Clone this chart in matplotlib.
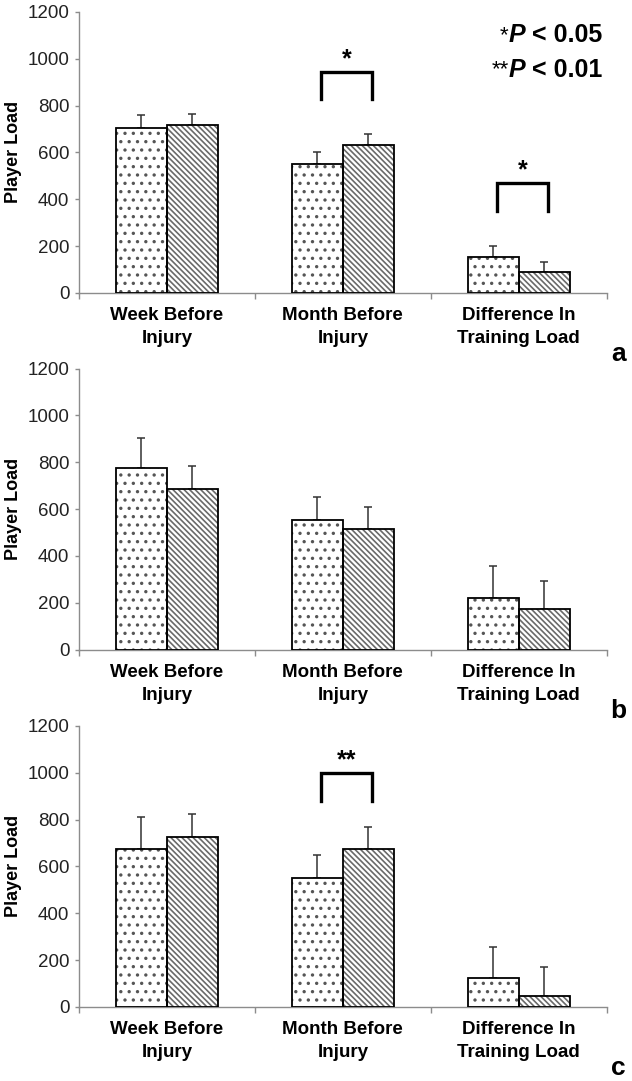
import matplotlib
matplotlib.use("Agg")
import matplotlib.pyplot as plt
import numpy as np

# Data (Player Load, mean + upper SD)
categories = ["Week Before\nInjury", "Month Before\nInjury", "Difference In\nTraining Load"]

a_dotted = [705, 550, 155]
a_dotted_err = [55, 50, 45]
a_hatched = [715, 630, 88]
a_hatched_err = [50, 50, 44]

b_dotted = [775, 552, 222]
b_dotted_err = [128, 102, 135]
b_hatched = [687, 516, 173]
b_hatched_err = [96, 92, 122]

c_dotted = [674, 551, 124]
c_dotted_err = [135, 98, 132]
c_hatched = [724, 674, 47]
c_hatched_err = [99, 95, 123]

# significance brackets: (category index, bracket top, bracket bottom, stars)
a_brackets = [(1, 944, 829, "*"), (2, 470, 350, "*")]
b_brackets = []
c_brackets = [(1, 997, 879, "**")]

panel_labels = ["a", "b", "c"]

plt.rcParams["font.family"] = ["Liberation Sans", "DejaVu Sans"]
plt.rcParams["hatch.linewidth"] = 1.2

AXIS_GREY = "#8c8c8c"
BAR_W = 0.29


def draw_panel(ax, dotted, dotted_err, hatched, hatched_err, brackets):
    x = np.arange(len(categories)) + 0.5
    x1 = x - BAR_W / 2
    x2 = x + BAR_W / 2

    # hatch fill first (grey pattern), then black outlines on top
    ax.bar(x1, dotted, BAR_W, color="white", edgecolor="#555555", hatch="..", linewidth=0, zorder=2)
    ax.bar(x2, hatched, BAR_W, color="white", edgecolor="#6a6a6a", hatch="\\\\\\\\\\\\", linewidth=0, zorder=2)
    ax.bar(x1, dotted, BAR_W, fill=False, edgecolor="black", linewidth=1.3, zorder=3)
    ax.bar(x2, hatched, BAR_W, fill=False, edgecolor="black", linewidth=1.3, zorder=3)

    ax.errorbar(x1, dotted, yerr=[np.zeros(3), dotted_err], fmt="none", ecolor="#333333",
                elinewidth=1.1, capsize=3, capthick=1.1, zorder=1)
    ax.errorbar(x2, hatched, yerr=[np.zeros(3), hatched_err], fmt="none", ecolor="#333333",
                elinewidth=1.1, capsize=3, capthick=1.1, zorder=1)

    for idx, top, bottom, stars in brackets:
        xl, xr = x1[idx] + 0.02, x2[idx] + 0.02
        ax.plot([xl, xl, xr, xr], [bottom, top, top, bottom], color="black", lw=2.4,
                solid_joinstyle="miter", zorder=4)
        ax.text((xl + xr) / 2, top + 55, stars, ha="center", va="center",
                fontsize=18, fontweight="bold")

    ax.set_ylim(0, 1200)
    ax.set_xlim(0, 3)
    ax.set_yticks(range(0, 1201, 200))
    ax.set_xticks([0, 1, 2, 3])
    ax.set_xticklabels([])
    ax.set_xticks(x, minor=True)
    ax.set_xticklabels(categories, minor=True, fontsize=13.5, fontweight="bold", linespacing=1.5)
    ax.tick_params(axis="x", which="major", length=4, color=AXIS_GREY, width=1)
    ax.tick_params(axis="x", which="minor", length=0, pad=10)
    ax.tick_params(axis="y", length=3, color=AXIS_GREY, width=1, labelsize=13.5,
                   labelcolor="#222222", pad=4)
    for side in ["top", "right"]:
        ax.spines[side].set_visible(False)
    for side in ["left", "bottom"]:
        ax.spines[side].set_color(AXIS_GREY)
        ax.spines[side].set_linewidth(1)
    ax.set_ylabel("Player Load", fontsize=13, fontweight="bold", labelpad=4)


fig = plt.figure(figsize=(6.32, 10.81), dpi=100)

panels = [
    (a_dotted, a_dotted_err, a_hatched, a_hatched_err, a_brackets),
    (b_dotted, b_dotted_err, b_hatched, b_hatched_err, b_brackets),
    (c_dotted, c_dotted_err, c_hatched, c_hatched_err, c_brackets),
]
bottoms = [0.729, 0.399, 0.0685]

axes = []
for (d, de, h, he, br), bottom, label in zip(panels, bottoms, panel_labels):
    ax = fig.add_axes([0.125, bottom, 0.835, 0.26])
    draw_panel(ax, d, de, h, he, br)
    fig.text(0.978, bottom - 61 / 1081, label, ha="center", va="center",
             fontsize=19, fontweight="bold")
    axes.append(ax)

# p-value key in panel a
ax = axes[0]
for yv, stars, txt in [(1102, "*", " < 0.05"), (953, "**", " < 0.01")]:
    t1 = ax.text(0.992, yv, txt, transform=ax.get_yaxis_transform(), ha="right", va="center",
                 fontsize=18, fontweight="bold")
    t2 = ax.annotate("P", xy=(0, 0.5), xycoords=t1, ha="right", va="center",
                     fontsize=18, fontweight="bold", fontstyle="italic")
    ax.annotate(stars, xy=(0, 0.92), xycoords=t2, ha="right", va="top", fontsize=16)

fig.savefig("out.png", dpi=100)
